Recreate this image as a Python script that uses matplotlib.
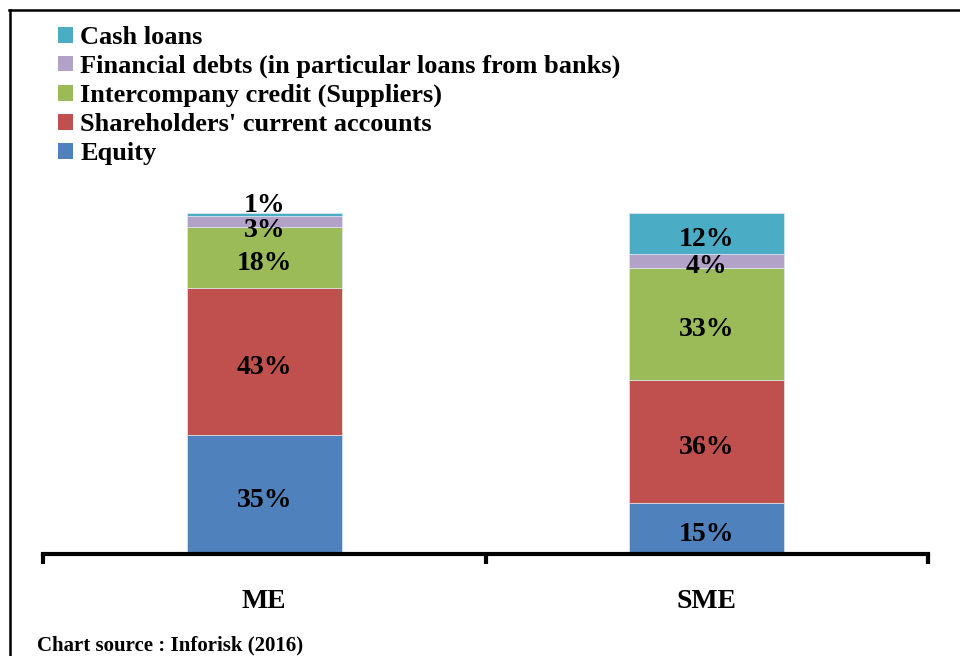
import matplotlib.pyplot as plt
from matplotlib.lines import Line2D
from matplotlib.patches import Patch
import numpy as np

plt.rcParams['font.family'] = ['Liberation Serif', 'DejaVu Serif']
plt.rcParams['font.weight'] = 'bold'

groups = ['ME', 'SME']
series = ['Equity', "Shareholders' current accounts", 'Intercompany credit (Suppliers)',
          'Financial debts (in particular loans from banks)', 'Cash loans']
equity = [35, 15]
shareholders = [43, 36]
intercompany = [18, 33]
financial = [3, 4]
cash = [1, 12]
colors = ['#4F81BD', '#C0504D', '#9BBB59', '#B3A2C7', '#4BACC6']

# nudge for the tiny segments so labels don't collide (points)
label_nudge = {(0, 4): 11, (0, 3): -2}

fig = plt.figure(figsize=(9.6, 6.56), dpi=100)
W, H = 960, 656
ax = fig.add_axes([43 / W, 102 / H, 885 / W, 341 / H])

x = np.arange(len(groups))
bottom = np.zeros(len(groups))
for i, vals in enumerate([equity, shareholders, intercompany, financial, cash]):
    vals = np.array(vals, dtype=float)
    ax.bar(x, vals, 0.35, bottom=bottom, color=colors[i], edgecolor='#dde8f0',
           linewidth=0.5, label=series[i], zorder=2)
    for j in range(len(groups)):
        yc = bottom[j] + vals[j] / 2
        ax.annotate('%d%%' % vals[j], (x[j], yc), xytext=(0, label_nudge.get((j, i), 0) - 2),
                    textcoords='offset points', ha='center', va='center_baseline',
                    fontsize=20, fontweight='bold', zorder=5, annotation_clip=False)
    bottom += vals

ax.set_xlim(-0.5, 1.5)
ax.set_ylim(0, 100)
for s in ['left', 'right', 'top']:
    ax.spines[s].set_visible(False)
ax.spines['bottom'].set_linewidth(3)
ax.set_yticks([])
ax.set_xticks([-0.5, 0.5, 1.5])
ax.set_xticklabels([])
ax.tick_params(axis='x', which='major', direction='out', length=7, width=3)
ax.set_xticks(x, minor=True)
ax.set_xticklabels(groups, minor=True, fontsize=20, fontweight='bold')
ax.tick_params(axis='x', which='minor', length=0, pad=25)

handles = [Patch(facecolor=colors[i], edgecolor='none') for i in range(5)][::-1]
fig.legend(handles, series[::-1], loc='upper left', bbox_to_anchor=(58 / W, 1 - 26 / H),
           frameon=False, prop={'size': 19, 'weight': 'bold'}, handlelength=0.55,
           handleheight=0.55, handletextpad=0.3, labelspacing=0.22, borderpad=0,
           borderaxespad=0)

fig.text(37 / W, 1 - 645 / H, 'Chart source : Inforisk (2016)', fontsize=15,
         fontweight='bold', va='center', ha='left')

# outer frame (cut on right and bottom like the original)
fig.add_artist(Line2D([9 / W, 1], [1 - 9.5 / H, 1 - 9.5 / H], color='black', lw=1.8))
fig.add_artist(Line2D([9.5 / W, 9.5 / W], [0, 1 - 9.5 / H], color='black', lw=1.8))

fig.savefig('out.png', dpi=100)
